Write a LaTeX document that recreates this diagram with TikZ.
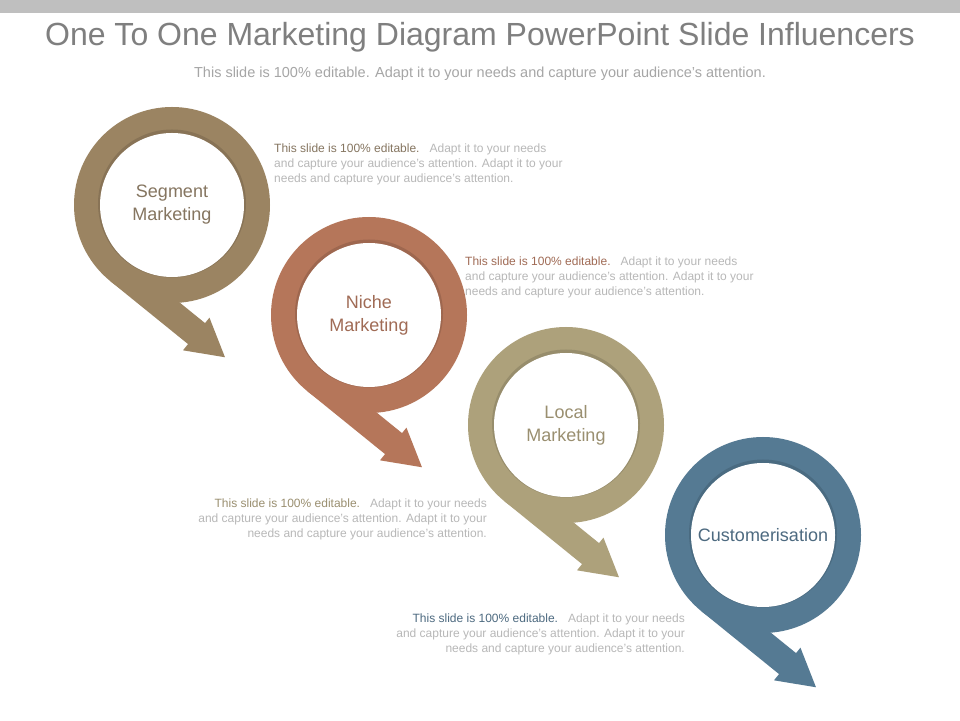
\documentclass[tikz,border=0pt]{standalone}
\usepackage{fontspec}
\setmainfont{Liberation Sans}
\usepackage{tikz}

\definecolor{topbar}{HTML}{BFBFBF}
\definecolor{titlegray}{HTML}{7F7F7F}
\definecolor{subgray}{HTML}{A6A6A6}
\definecolor{notegray}{HTML}{B8B8B8}
\definecolor{segcol}{HTML}{9B8462}
\definecolor{niccol}{HTML}{B5765A}
\definecolor{loccol}{HTML}{ADA17B}
\definecolor{cuscol}{HTML}{557A93}
\definecolor{segtext}{HTML}{857560}
\definecolor{nictext}{HTML}{A06B55}
\definecolor{loctext}{HTML}{9A8F70}
\definecolor{custext}{HTML}{4D6A80}

\begin{document}
\begin{tikzpicture}[x=1pt,y=1pt,
	hole/.style={shape=circle,fill=white,inner sep=0pt,minimum size=144pt,align=center,font=\fontsize{18}{23}\selectfont},
	note/.style={inner sep=0pt,font=\fontsize{12}{15}\selectfont,text=notegray}]

	\useasboundingbox (0,0) rectangle (960,720);
	\fill[white] (0,0) rectangle (960,720);
	\fill[topbar] (0,707) rectangle (960,720);

	\node[text=titlegray,font=\fontsize{32}{36}\selectfont] (title) at (480,683) {One To One Marketing Diagram PowerPoint Slide Influencers};
	\node[text=subgray,font=\fontsize{14.5}{17}\selectfont] (sub) at (480,646) {This slide is 100\% editable. Adapt it to your needs and capture your audience's attention.};

	% segment
	\begin{scope}[shift={(172,515)}]
	\fill[segcol] (0,0) circle (98);
	\fill[segcol,rotate=-39] (0,-71) -- (100,-71) -- (100,-64) -- (137,-85) -- (100,-106) -- (100,-98) -- (0,-98) -- cycle;
	\fill[black,opacity=0.12] (0,1.5) circle (74);
	\end{scope}
	\node[hole,text=segtext] (seg) at (172,515) {Segment\\Marketing};

	% niche
	\begin{scope}[shift={(369,405)}]
	\fill[niccol] (0,0) circle (98);
	\fill[niccol,rotate=-39] (0,-71) -- (100,-71) -- (100,-64) -- (137,-85) -- (100,-106) -- (100,-98) -- (0,-98) -- cycle;
	\fill[black,opacity=0.12] (0,1.5) circle (74);
	\end{scope}
	\node[hole,text=nictext] (nic) at (369,405) {Niche\\Marketing};

	% local
	\begin{scope}[shift={(566,295)}]
	\fill[loccol] (0,0) circle (98);
	\fill[loccol,rotate=-39] (0,-71) -- (100,-71) -- (100,-64) -- (137,-85) -- (100,-106) -- (100,-98) -- (0,-98) -- cycle;
	\fill[black,opacity=0.12] (0,1.5) circle (74);
	\end{scope}
	\node[hole,text=loctext] (loc) at (566,295) {Local\\Marketing};

	% customerisation
	\begin{scope}[shift={(763,185)}]
	\fill[cuscol] (0,0) circle (98);
	\fill[cuscol,rotate=-39] (0,-71) -- (100,-71) -- (100,-64) -- (137,-85) -- (100,-106) -- (100,-98) -- (0,-98) -- cycle;
	\fill[black,opacity=0.12] (0,1.5) circle (74);
	\end{scope}
	\node[hole,text=custext] (cus) at (763,185) {Customerisation};

	\node[note,anchor=north west,align=left] (segnote) at (274,576) {{\color{segtext}This slide is 100\% editable.}\ \ \ Adapt it to your needs\\and capture your audience's attention. Adapt it to your\\needs and capture your audience's attention.};
	\node[note,anchor=north west,align=left] (nicnote) at (465,463) {{\color{nictext}This slide is 100\% editable.}\ \ \ Adapt it to your needs\\and capture your audience's attention. Adapt it to your\\needs and capture your audience's attention.};
	\node[note,anchor=north east,align=right] (locnote) at (487,221) {{\color{loctext}This slide is 100\% editable.}\ \ \ Adapt it to your needs\\and capture your audience's attention. Adapt it to your\\needs and capture your audience's attention.};
	\node[note,anchor=north east,align=right] (cusnote) at (685,106) {{\color{custext}This slide is 100\% editable.}\ \ \ Adapt it to your needs\\and capture your audience's attention. Adapt it to your\\needs and capture your audience's attention.};
\end{tikzpicture}
\end{document}
